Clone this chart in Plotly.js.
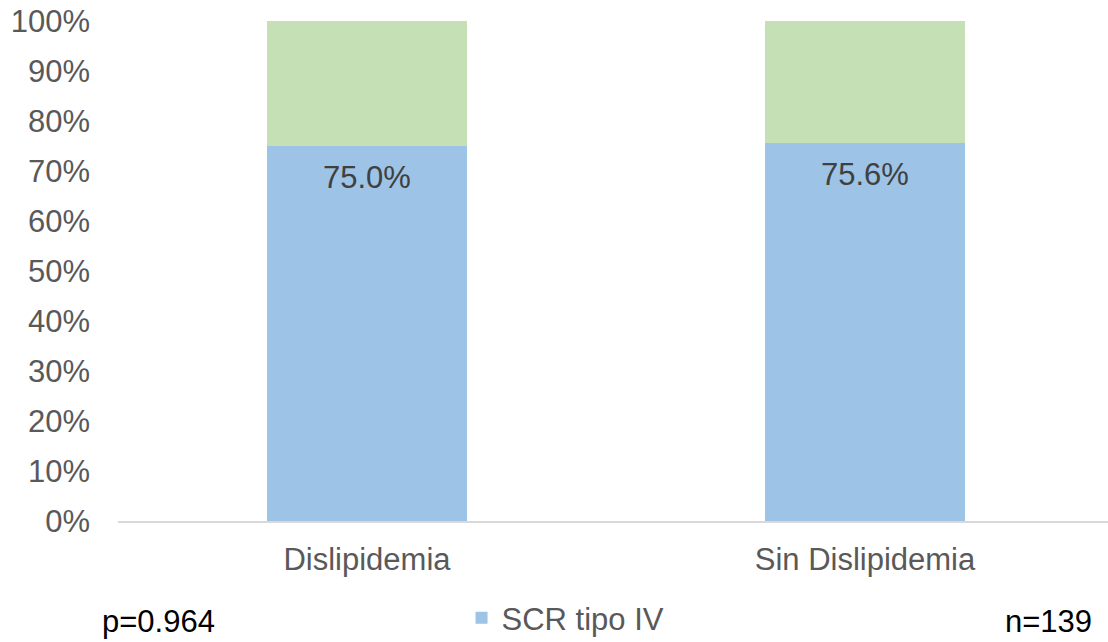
<!DOCTYPE html>
<html>
<head>
<meta charset="utf-8">
<script src="https://cdn.plot.ly/plotly-3.0.1.min.js"></script>
<style>html,body{margin:0;padding:0;background:#fff;}#chart{width:1108px;height:642px;}</style>
</head>
<body>
<div id="chart"></div>
<script>
var categories = ["Dislipidemia", "Sin Dislipidemia"];
var scrTipoIV = [75.0, 75.6];
var otros = [25.0, 24.4];
var labels = ["75.0%", "75.6%"];
var pText = "p=0.964";
var nText = "n=139";

var font = "Liberation Sans, Arial, sans-serif";
var fs = 31;

var traces = [
  {type: "bar", x: categories, y: scrTipoIV, name: "SCR tipo IV",
   marker: {color: "#9DC3E6"}, width: 0.4, hoverinfo: "none"},
  {type: "bar", x: categories, y: otros, name: "Otros", showlegend: false,
   marker: {color: "#C5E0B4"}, width: 0.4, hoverinfo: "none"}
];

var annotations = categories.map(function(c, i){
  return {x: c, y: scrTipoIV[i], xref: "x", yref: "y", text: labels[i],
    showarrow: false, yanchor: "top", yshift: -12,
    font: {family: font, size: fs, color: "#404040"}};
});
annotations.push({x: -0.017, y: -0.201, xref: "paper", yref: "paper", text: pText,
  showarrow: false, xanchor: "left", yanchor: "middle", borderpad: 0,
  font: {family: font, size: fs, color: "#000000"}});
annotations.push({x: 0.985, y: -0.201, xref: "paper", yref: "paper", text: nText,
  showarrow: false, xanchor: "right", yanchor: "middle", borderpad: 0,
  font: {family: font, size: fs, color: "#000000"}});

var layout = {
  width: 1108, height: 642,
  margin: {l: 118, r: 0, t: 21, b: 121, pad: 0, autoexpand: false},
  barmode: "stack",
  paper_bgcolor: "#ffffff", plot_bgcolor: "#ffffff",
  font: {family: font, size: fs, color: "#595959"},
  xaxis: {range: [-0.5, 1.488], showgrid: false, zeroline: false, automargin: false,
    showline: true, linecolor: "#D9D9D9", linewidth: 1.5,
    ticks: "", ticklabelstandoff: 10,
    tickfont: {family: font, size: fs, color: "#595959"}},
  yaxis: {range: [0, 100], dtick: 10, ticksuffix: "%", showgrid: false, automargin: false,
    zeroline: false, showline: false, ticks: "", ticklabelstandoff: 27,
    tickfont: {family: font, size: fs, color: "#595959"}},
  legend: {orientation: "h", x: 0.347, xanchor: "left", y: -0.194, yanchor: "middle",
    font: {family: font, size: fs, color: "#595959"}},
  annotations: annotations,
  showlegend: true
};

Plotly.newPlot("chart", traces, layout, {displayModeBar: false, staticPlot: true});
</script>
</body>
</html>
